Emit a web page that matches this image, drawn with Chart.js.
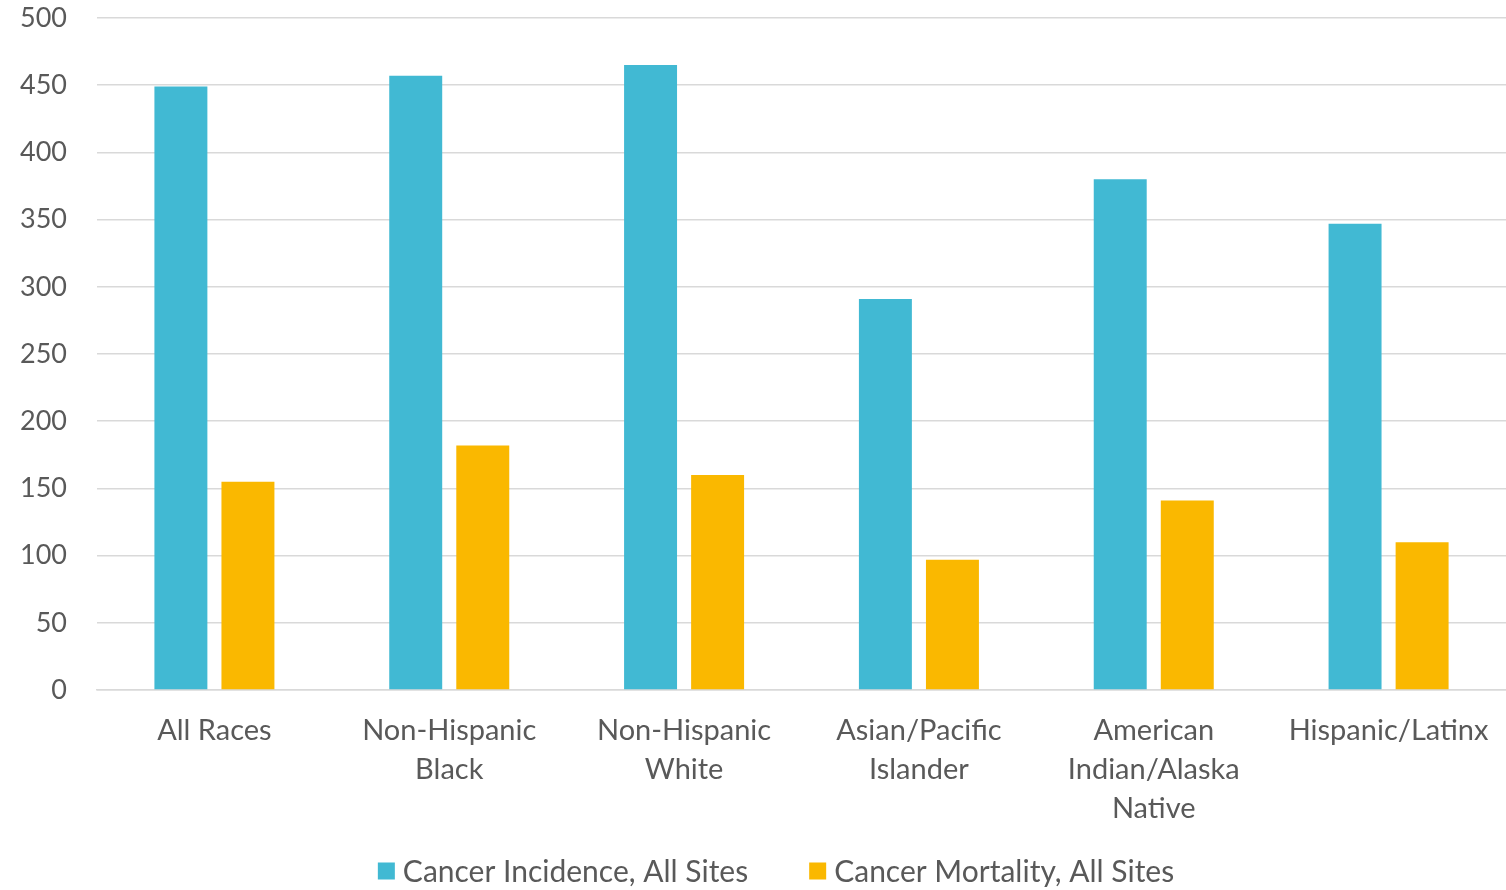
<!DOCTYPE html>
<html><head><meta charset="utf-8">
<script src="https://cdn.jsdelivr.net/npm/chart.js@4.4.1/dist/chart.umd.min.js"></script>
<style>html,body{margin:0;padding:0;background:#fff}#wrap{width:1506px;height:890px}</style>
</head><body><div id="wrap"><canvas id="c" width="1506" height="890"></canvas></div>
<script>
const categories = [["All Races"],["Non-Hispanic","Black"],["Non-Hispanic","White"],["Asian/Pacific","Islander"],["American","Indian/Alaska","Native"],["Hispanic/Latinx"]];
const incidence = [449, 457, 465, 291, 380, 347];
const mortality = [155, 182, 160, 97, 141, 110];
const seriesNames = ["Cancer Incidence, All Sites", "Cancer Mortality, All Sites"];
const yMin = 0, yMax = 500, yStep = 50;

const TEXT = '#595959';
const FONT = 'Lato';

const legendPlugin = {
  id: 'bottomLegend',
  afterDraw(chart) {
    const ctx = chart.ctx;
    ctx.save();
    ctx.font = '30px ' + FONT;
    ctx.textBaseline = 'middle';
    ctx.textAlign = 'left';
    const box = 17, gapText = 8, gapItem = 61;
    const items = chart.data.datasets.map(d => ({label: d.label, color: d.backgroundColor, w: ctx.measureText(d.label).width}));
    const total = items.reduce((s, it) => s + box + gapText + it.w, 0) + gapItem * (items.length - 1);
    let x = 776 - total / 2;
    const y = 871;
    items.forEach(it => {
      ctx.fillStyle = it.color;
      ctx.fillRect(x, y - 8.5, box, box);
      x += box + gapText;
      ctx.fillStyle = TEXT;
      ctx.fillText(it.label, x, y + 1);
      x += it.w + gapItem;
    });
    ctx.restore();
  }
};

new Chart(document.getElementById('c'), {
  type: 'bar',
  data: {
    labels: categories,
    datasets: [
      {label: seriesNames[0], data: incidence, backgroundColor: '#41B9D3', categoryPercentage: 0.571, barPercentage: 0.79},
      {label: seriesNames[1], data: mortality, backgroundColor: '#FAB800', categoryPercentage: 0.571, barPercentage: 0.79}
    ]
  },
  options: {
    responsive: false,
    animation: false,
    devicePixelRatio: 1,
    layout: {padding: {top: 0, right: 0, bottom: 62, left: 0}},
    plugins: {legend: {display: false}, tooltip: {enabled: false}},
    scales: {
      x: {
        grid: {display: false, drawTicks: false},
        border: {display: true, color: '#D9D9D9', width: 1.5},
        ticks: {color: TEXT, font: {family: FONT, size: 29, lineHeight: 1.345}, padding: 21, maxRotation: 0, autoSkip: false},
        afterFit: s => { s.height = 138; s.paddingLeft = 0; s.paddingRight = 0; }
      },
      y: {
        min: yMin, max: yMax,
        grid: {color: '#D9D9D9', lineWidth: 1.5, drawTicks: false},
        border: {display: false},
        ticks: {stepSize: yStep, color: TEXT, font: {family: FONT, size: 27}, padding: 30},
        afterFit: s => { s.width = 97; s.paddingTop = 18; s.paddingBottom = 0; }
      }
    }
  },
  plugins: [legendPlugin]
});
</script></body></html>
